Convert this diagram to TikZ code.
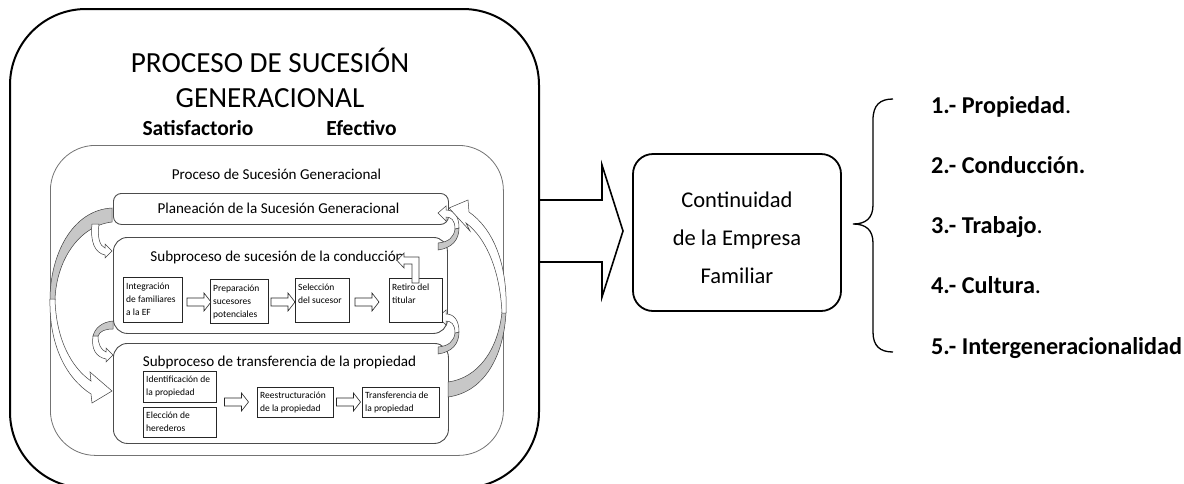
\documentclass[tikz,border=0pt]{standalone}
\usepackage{fontspec}
\setmainfont{Carlito}
\begin{document}
\begin{tikzpicture}[x=1pt,y=-1pt,
 outerbox/.style={draw, line width=2pt, rounded corners=76pt, inner sep=0, outer sep=0},
 procbox/.style={draw=black!55, line width=0.8pt, rounded corners=45pt, inner sep=0},
 stagebox/.style={draw=black!70, line width=0.9pt, fill=white, inner sep=0},
 smallbox/.style={draw=black!85, line width=0.8pt, fill=white, inner sep=0},
 smalltext/.style={font=\fontsize{9.5pt}{13pt}\selectfont, align=left, inner xsep=3pt, inner ysep=3.4pt, anchor=north west},
 midtext/.style={font=\fontsize{15.1pt}{18pt}\selectfont, anchor=base, inner sep=0},
 titletext/.style={font=\fontsize{29.2pt}{35pt}\selectfont, anchor=base, inner sep=0},
 subtitletext/.style={font=\fontsize{21.5pt}{25pt}\selectfont\bfseries, anchor=base, inner sep=0},
 conttext/.style={font=\fontsize{22.5pt}{27pt}\selectfont, anchor=base, inner sep=0},
 itemtext/.style={font=\fontsize{24.2pt}{28pt}\selectfont\bfseries, anchor=base west, inner sep=0},
 arrowline/.style={draw=black!85, line width=0.6pt, fill=white, line join=miter},
 barr/.pic={\path[arrowline] (-12,-4) -- (5,-4) -- (5,-9) -- (12,0) -- (5,9) -- (5,4) -- (-12,4) -- cycle;},
 backface/.style={fill=black!22, draw=black!75, line width=0.5pt},
 frontface/.style={fill=white, draw=black!75, line width=0.5pt},
 contbox/.style={draw, line width=1.8pt, rounded corners=20pt, inner sep=0},
]
\useasboundingbox (0,0) rectangle (1184,483);
\clip (0,0) rectangle (1184,483);

% outer frame
\node[outerbox, minimum width=529pt, minimum height=479pt, anchor=north west] (outer) at (10,9) {};
\node[titletext] (title1) at (270,72) {PROCESO DE SUCESIÓN};
\node[titletext] (title2) at (270,107) {GENERACIONAL};
\node[subtitletext] (satis) at (198,135) {Satisfactorio};
\node[subtitletext] (efect) at (361.5,135) {Efectivo};

% inner process frame
\node[procbox, minimum width=453pt, minimum height=310pt, anchor=north west] (proc) at (50,145) {};
\node[midtext] (proctitle) at (276.5,179.5) {Proceso de Sucesión Generacional};

% stage boxes
\node[stagebox, rounded corners=8pt, minimum width=335pt, minimum height=31pt, anchor=north west] (plan) at (113,193) {};
\node[stagebox, rounded corners=14pt, minimum width=334pt, minimum height=96pt, anchor=north west] (cond) at (113,237) {};
\node[stagebox, rounded corners=14pt, minimum width=335pt, minimum height=100pt, anchor=north west] (trans) at (113,343) {};

% big left curved arrow (planeacion -> transferencia)
\draw[backface] (112,208) .. controls (72,210) and (50,255) .. (50,300) -- (55,300) .. controls (56,262) and (78,226) .. (112,222) -- cycle;
\draw[frontface] (50,299) .. controls (49,345) and (66,378) .. (91,394) -- (92,403) -- (112,391) -- (90,372) -- (91,381) .. controls (72,368) and (56,340) .. (55,299) -- cycle;

% small left arrows
\draw[frontface] (92,224) .. controls (90,242) and (95,253) .. (105,255) -- (105,258) -- (112,251) -- (105,244) -- (105,248) .. controls (100,246) and (97,238) .. (99,224) -- cycle;
\draw[backface] (113,321) .. controls (102,322) and (95,328) .. (93,336) -- (98,336) .. controls (100,331) and (105,329) .. (113,329) -- cycle;
\draw[frontface] (93,336) .. controls (91,349) and (96,357) .. (106,359) -- (106,362) -- (113,355) -- (106,348) -- (106,352) .. controls (101,350) and (98,344) .. (98,336) -- cycle;

% right small arrows
\draw[backface] (438,250) .. controls (452,248) and (459,240) .. (459,228) -- (455,229) .. controls (454,237) and (449,242) .. (438,243) -- cycle;
\draw[frontface] (459,228) .. controls (459,216) and (454,210) .. (446,210) -- (446,206) -- (438,213) -- (446,221) -- (446,217) .. controls (451,217) and (455,220) .. (455,229) -- cycle;
\draw[backface] (438,354) .. controls (452,352) and (459,344) .. (459,332) -- (455,333) .. controls (454,341) and (449,346) .. (438,347) -- cycle;
\draw[frontface] (459,332) .. controls (459,320) and (454,314) .. (446,314) -- (446,310) -- (438,317) -- (446,325) -- (446,321) .. controls (451,321) and (455,324) .. (455,333) -- cycle;

% big right curved arrow (transferencia -> planeacion)
\draw[backface] (448,397) .. controls (485,392) and (504,355) .. (506,312) -- (502,312) .. controls (498,350) and (478,378) .. (448,382) -- cycle;
\draw[frontface] (506,313) .. controls (508,262) and (492,228) .. (469,212) -- (468,200) -- (449,208) -- (470,231) -- (466,223) .. controls (486,238) and (500,270) .. (502,313) -- cycle;

\node[midtext] (plantext) at (278.5,213) {Planeación de la Sucesión Generacional};
\node[midtext] (condtext) at (279,261) {Subproceso de sucesión de la conducción.};
\node[midtext] (transtext) at (279.5,366) {Subproceso de transferencia de la propiedad};

% conduction steps
\node[smallbox, minimum width=59pt, minimum height=45pt, anchor=north west] (c1) at (123,277) {};
\node[smallbox, minimum width=58pt, minimum height=44pt, anchor=north west] (c2) at (210,279) {};
\node[smallbox, minimum width=54pt, minimum height=44pt, anchor=north west] (c3) at (295,278) {};
\node[smallbox, minimum width=53pt, minimum height=44pt, anchor=north west] (c4) at (389,278) {};
\draw[frontface, line width=0.6pt] (412,283) -- (412,264) -- (404,264) -- (404,268) -- (397,260.5) -- (404,253) -- (404,257) -- (419,257) -- (419,283) -- cycle;
\node[smalltext] (c1t) at (c1.north west) {\strut Integración\\de familiares\\a la EF};
\node[smalltext] (c2t) at (c2.north west) {\strut Preparación\\sucesores\\potenciales};
\node[smalltext] (c3t) at (c3.north west) {\strut Selección\\del sucesor};
\node[smalltext] (c4t) at (c4.north west) {\strut Retiro del\\titular};
\pic at (199,302) {barr};
\pic at (283,302) {barr};
\pic at (367,302) {barr};

% transfer steps
\node[smallbox, minimum width=73pt, minimum height=31pt, anchor=north west] (t1) at (143,371) {};
\node[smallbox, minimum width=73pt, minimum height=30pt, anchor=north west] (t2) at (143,407) {};
\node[smallbox, minimum width=76pt, minimum height=30pt, anchor=north west] (t3) at (257,387) {};
\node[smallbox, minimum width=77pt, minimum height=30pt, anchor=north west] (t4) at (362,387) {};
\node[smalltext, inner ysep=2pt] (t1t) at (t1.north west) {\strut Identificación de\\la propiedad};
\node[smalltext, inner ysep=2pt] (t2t) at (t2.north west) {\strut Elección de\\herederos};
\node[smalltext, inner ysep=2pt] (t3t) at (t3.north west) {\strut Reestructuración\\de la propiedad};
\node[smalltext, inner ysep=2pt] (t4t) at (t4.north west) {\strut Transferencia de\\la propiedad};
\pic at (236.5,402) {barr};
\pic at (348.5,402) {barr};

% big block arrow to continuity
\draw[line width=1.6pt, line join=miter] (539,200) -- (602,200) -- (602,165) -- (623,231) -- (602,297) -- (602,262) -- (539,262);

% continuity box
\node[contbox, minimum width=208pt, minimum height=157pt] (cont) at (737,232.5) {};
\node[conttext] (cont1) at (737,207) {Continuidad};
\node[conttext] (cont2) at (737,245) {de la Empresa};
\node[conttext] (cont3) at (737,283) {Familiar};

% brace
\coordinate (brtop) at (893,99);
\coordinate (brtip) at (853,224);
\coordinate (brbot) at (893,352);
\draw[line width=1.3pt] (brtop) .. controls (880,99) and (873,105) .. (873,120) -- (873,205) .. controls (873,218) and (866,224) .. (brtip) .. controls (866,224) and (873,230) .. (873,243) -- (873,332) .. controls (873,346) and (880,352) .. (brbot);

% items
\node[itemtext] (i1) at (931,113) {1.- Propiedad\textmd{.}};
\node[itemtext] (i2) at (931,173) {2.- Conducción.};
\node[itemtext] (i3) at (931,233) {3.- Trabajo\textmd{.}};
\node[itemtext] (i4) at (931,293) {4.- Cultura\textmd{.}};
\node[itemtext] (i5) at (931,354) {5.- Intergeneracionalidad};
\end{tikzpicture}
\end{document}
